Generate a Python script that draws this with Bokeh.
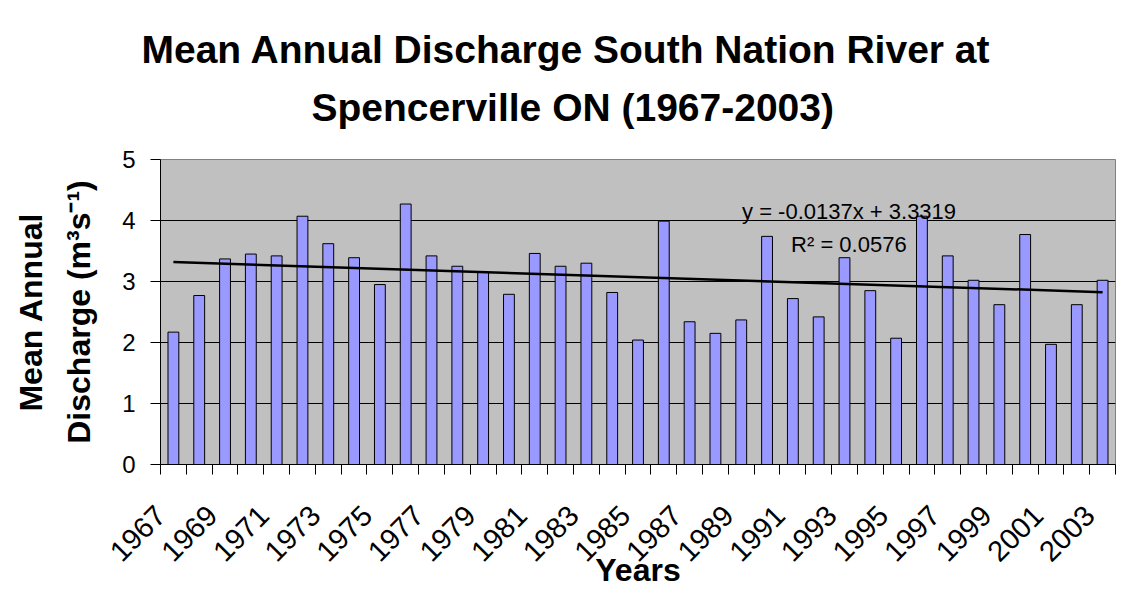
import math
from bokeh.plotting import figure
from bokeh.models import Range1d, FixedTicker, Label, ColumnDataSource, Title
from bokeh.embed import file_html
from bokeh.resources import INLINE

# ---- data ----
years = list(range(1967, 2004))
discharge = [2.17, 2.77, 3.37, 3.45, 3.42, 4.07, 3.62, 3.39, 2.95, 4.27,
             3.42, 3.25, 3.15, 2.79, 3.46, 3.25, 3.30, 2.82, 2.04, 3.99,
             2.34, 2.15, 2.37, 3.74, 2.72, 2.42, 3.39, 2.85, 2.07, 4.07,
             3.42, 3.02, 2.62, 3.77, 1.97, 2.62, 3.02]
tick_labels = ["1967", "1969", "1971", "1973", "1975", "1977", "1979", "1981",
               "1983", "1985", "1987", "1989", "1991", "1993", "1995", "1997",
               "1999", "2001", "2003"]
y_ticks = [0, 1, 2, 3, 4, 5]
trend_slope = -0.0137
trend_intercept = 3.3319
r_squared = 0.0576
title_lines = ["Mean Annual Discharge South Nation River at",
               "Spencerville ON (1967-2003)"]

FONT = "Liberation Sans"

p = figure(width=1117, height=591, output_backend="svg", toolbar_location=None,
           title=None,
           x_range=Range1d(years[0] - 0.5, years[-1] + 0.5),
           y_range=Range1d(y_ticks[0], y_ticks[-1]),
           min_border_left=160, min_border_right=2,
           min_border_top=159, min_border_bottom=127)

# two-line title (added inner line first)
t2 = Title(text=title_lines[1], align="left", offset=151, standoff=61,
           text_font=FONT, text_font_style="bold", text_font_size="39px",
           text_color="black")
t1 = Title(text=title_lines[0], align="left", offset=-19, standoff=-35,
           text_font=FONT, text_font_style="bold", text_font_size="39px",
           text_color="black")
p.add_layout(t2, "above")
p.add_layout(t1, "above")

p.background_fill_color = "#C0C0C0"
p.border_fill_color = "white"
p.outline_line_color = "#808080"
p.outline_line_width = 1

# bars
src = ColumnDataSource(dict(year=years, discharge=discharge))
p.vbar(x="year", top="discharge", width=0.42, source=src,
       fill_color="#9999FF", line_color="black", line_width=1)

# trend line (Excel x = 1..n)
n = len(years)
tx = [years[0], years[-1]]
ty = [trend_slope * 1 + trend_intercept, trend_slope * n + trend_intercept]
p.line(tx, ty, line_color="black", line_width=2.5)

p.add_layout(Label(x=1989.03, y=4.15, text=f"y = {trend_slope}x + {trend_intercept}",
                   text_font=FONT, text_font_size="22px", text_color="black",
                   text_baseline="alphabetic"))
p.add_layout(Label(x=1990.93, y=3.61, text=f"R\u00b2 = {r_squared}",
                   text_font=FONT, text_font_size="22px", text_color="black",
                   text_baseline="alphabetic"))

# x axis: ticks at category boundaries, labels every second year
bounds = [y - 0.5 for y in years] + [years[-1] + 0.5]
overrides = {b: "" for b in bounds}
for lbl in tick_labels:
    overrides[int(lbl) - 0.5] = lbl
p.xaxis.ticker = FixedTicker(ticks=bounds)
p.xaxis.major_label_overrides = overrides
p.xaxis.major_label_orientation = math.pi / 4
p.xaxis.major_label_text_font = FONT
p.xaxis.major_label_text_font_size = "29px"
p.xaxis.major_label_text_color = "black"
p.xaxis.major_label_standoff = 36
p.xaxis.major_tick_out = 10
p.xaxis.major_tick_in = 0
p.xaxis.minor_tick_line_color = None
p.xaxis.axis_line_color = "black"
p.xaxis.axis_label = "Years"
p.xaxis.axis_label_text_font = FONT
p.xaxis.axis_label_text_font_style = "bold"
p.xaxis.axis_label_text_font_size = "32px"
p.xaxis.axis_label_text_color = "black"
p.xaxis.axis_label_standoff = -21

# y axis
p.yaxis.ticker = FixedTicker(ticks=y_ticks)
p.yaxis.major_label_text_font = FONT
p.yaxis.major_label_text_font_size = "24px"
p.yaxis.major_label_text_color = "black"
p.yaxis.major_label_standoff = 15
p.yaxis.major_tick_out = 10
p.yaxis.major_tick_in = 0
p.yaxis.minor_tick_line_color = None
p.yaxis.axis_line_color = "black"
p.yaxis.axis_label = "Mean Annual\nDischarge (m\u00b3s\u207b\u00b9)"
p.yaxis.axis_label_text_font = FONT
p.yaxis.axis_label_text_font_style = "bold"
p.yaxis.axis_label_text_font_size = "32px"
p.yaxis.axis_label_text_color = "black"
p.yaxis.axis_label_text_line_height = 1.35
p.yaxis.axis_label_standoff = 22

p.xgrid.visible = False
p.ygrid.ticker = FixedTicker(ticks=y_ticks)
p.ygrid.grid_line_color = "black"
p.ygrid.grid_line_width = 1

open("out.html", "w").write(file_html(p, INLINE))
